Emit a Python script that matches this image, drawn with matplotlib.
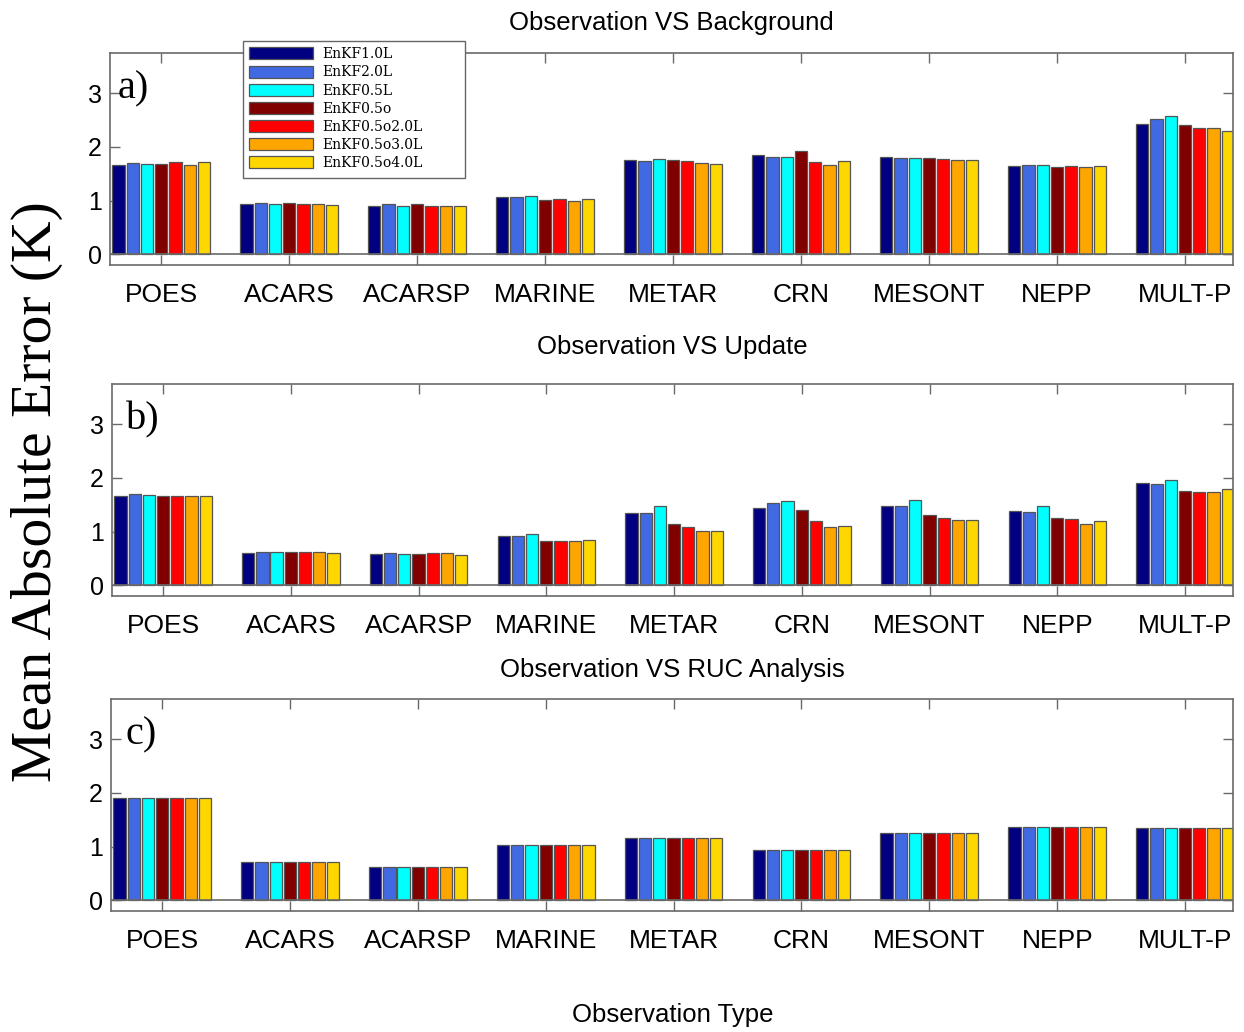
import numpy as np
import matplotlib
matplotlib.use("Agg")
import matplotlib.pyplot as plt
from matplotlib.patches import Rectangle

# Observation types (x categories)
obs_types = ["POES", "ACARS", "ACARSP", "MARINE", "METAR", "CRN", "MESONT", "NEPP", "MULT-P"]

# Experiment names and bar colours
experiments = ["EnKF1.0L", "EnKF2.0L", "EnKF0.5L", "EnKF0.5o",
               "EnKF0.5o2.0L", "EnKF0.5o3.0L", "EnKF0.5o4.0L"]
exp_colors = ["#000080", "#4169E1", "#00FFFF", "#800000",
              "#FF0000", "#FFA500", "#FFD700"]

# Mean absolute error (K): rows = observation types, columns = experiments
mae_background = [
    [1.67, 1.70, 1.69, 1.69, 1.71, 1.67, 1.71],   # POES
    [0.93, 0.95, 0.93, 0.95, 0.93, 0.94, 0.91],   # ACARS
    [0.90, 0.93, 0.90, 0.93, 0.90, 0.90, 0.90],   # ACARSP
    [1.06, 1.06, 1.09, 1.01, 1.03, 1.00, 1.03],   # MARINE
    [1.76, 1.73, 1.78, 1.75, 1.73, 1.70, 1.69],   # METAR
    [1.85, 1.82, 1.82, 1.93, 1.72, 1.67, 1.73],   # CRN
    [1.82, 1.80, 1.80, 1.80, 1.78, 1.75, 1.76],   # MESONT
    [1.64, 1.67, 1.67, 1.62, 1.65, 1.62, 1.64],   # NEPP
    [2.43, 2.52, 2.58, 2.40, 2.35, 2.35, 2.30],   # MULT-P
]
mae_update = [
    [1.66, 1.70, 1.69, 1.66, 1.67, 1.67, 1.67],
    [0.60, 0.62, 0.62, 0.62, 0.62, 0.62, 0.60],
    [0.59, 0.60, 0.59, 0.59, 0.60, 0.60, 0.57],
    [0.92, 0.92, 0.96, 0.82, 0.82, 0.82, 0.84],
    [1.35, 1.35, 1.47, 1.15, 1.09, 1.01, 1.02],
    [1.44, 1.54, 1.57, 1.40, 1.19, 1.09, 1.11],
    [1.48, 1.47, 1.59, 1.30, 1.26, 1.22, 1.21],
    [1.38, 1.37, 1.47, 1.26, 1.23, 1.15, 1.19],
    [1.91, 1.89, 1.96, 1.76, 1.73, 1.73, 1.79],
]
mae_ruc = [
    [1.91] * 7,
    [0.71] * 7,
    [0.62] * 7,
    [1.03] * 7,
    [1.16] * 7,
    [0.93] * 7,
    [1.25] * 7,
    [1.36] * 7,
    [1.34] * 7,
]

panel_titles = ["Observation VS Background", "Observation VS Update",
                "Observation VS RUC Analysis"]
panel_tags = ["a)", "b)", "c)"]
yticks = [0, 1, 2, 3]

W, H = 1244, 1032
fig = plt.figure(figsize=(W / 100, H / 100), dpi=100)

SANS = "Liberation Sans"
SERIF = "Liberation Serif"
EDGE = "#555555"
AXC = "#6a6a6a"


def rect(l, r, t, b):
    return [l / W, 1 - b / H, (r - l) / W, (b - t) / H]


panel_boxes = [(110, 1233, 53, 265), (112, 1233, 384, 596), (111, 1233, 699, 911)]
title_base = [30, 354, 677]
tag_x = [0.66, 0.71, 0.71]

n_exp = len(experiments)
slot = 0.78 / n_exp
bar_w = slot * 0.86
x = np.arange(1, len(obs_types) + 1)

for k, (data, box) in enumerate(zip([mae_background, mae_update, mae_ruc], panel_boxes)):
    ax = fig.add_axes(rect(*box))
    vals = np.array(data)
    for j in range(n_exp):
        ax.bar(x + (j - (n_exp - 1) / 2) * slot, vals[:, j], width=bar_w,
               color=exp_colors[j], edgecolor=EDGE, linewidth=0.9,
               label=experiments[j], zorder=2)
    ax.axhline(0, color=AXC, lw=1.2, zorder=3)
    ax.set_xlim(0.6, 9.375)
    ax.set_ylim(-0.2, 3.75)
    ax.set_yticks(yticks)
    ax.set_xticks(x)
    ax.set_xticklabels(obs_types, fontfamily=SANS, fontsize=19)
    ax.set_yticklabels([str(v) for v in yticks], fontfamily=SANS, fontsize=18)
    ax.tick_params(axis="both", direction="in", top=True, right=True,
                   length=7, width=1.0, color=AXC)
    ax.tick_params(axis="x", pad=13)
    ax.tick_params(axis="y", pad=6)
    for lbl in ax.get_xticklabels():
        lbl.set_x(lbl.get_position()[0])
    for s in ax.spines.values():
        s.set_color(AXC)
        s.set_linewidth(1.2)
    ax.text(tag_x[k], 3.08, panel_tags[k], fontfamily=SERIF, fontsize=29,
            va="center", ha="left")
    fig.text((box[0] + box[1]) / 2 / W, 1 - title_base[k] / H, panel_titles[k],
             fontfamily=SANS, fontsize=18.5, ha="center", va="baseline")
    if k == 0:
        # white legend box spanning above the top edge of the first panel
        frame = Rectangle((243 / W, 1 - 178 / H), 222 / W, 137 / H,
                          transform=fig.transFigure, facecolor="white",
                          edgecolor="#666666", linewidth=1.0,
                          clip_on=False, zorder=9)
        ax.add_patch(frame)
        leg = ax.legend(loc="upper left", bbox_to_anchor=(243 / W, 1 - 41 / H),
                        bbox_transform=fig.transFigure, borderaxespad=0,
                        prop={"family": "DejaVu Serif", "size": 10},
                        handlelength=4.6, handleheight=0.95, labelspacing=0.3,
                        handletextpad=0.65, borderpad=0.45, frameon=False)
        leg.set_zorder(10)

fig.text(37 / W, 1 - 492 / H, "Mean Absolute Error (K)", rotation=90,
         fontfamily=SERIF, fontsize=41.5, ha="center", va="center")
fig.text(673 / W, 1 - 1015 / H, "Observation Type", fontfamily=SANS,
         fontsize=18.5, ha="center", va="center")

fig.savefig("out.png", dpi=100)
